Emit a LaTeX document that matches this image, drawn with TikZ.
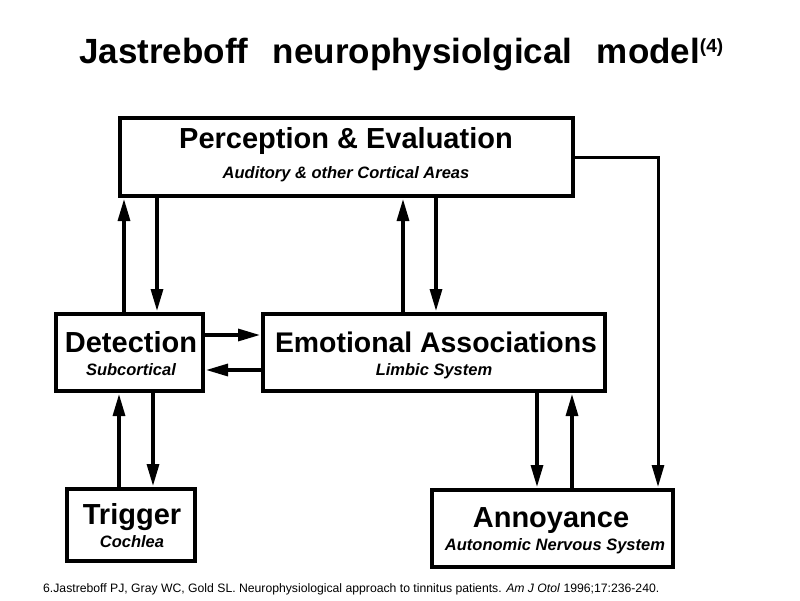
\documentclass[tikz,border=0pt]{standalone}
\usepackage{fontspec}
\usepackage{graphicx}
\setmainfont{Liberation Sans}
\usetikzlibrary{arrows.meta}
\tikzset{
  box/.style={draw, rectangle, line width=3.6pt, inner sep=0pt},
  arr/.style={line width=3.2pt, -{Triangle[width=12pt,length=22pt]}, shorten >=1.2pt},
  ttl/.style={font=\fontsize{29}{29}\selectfont\bfseries, anchor=base, inner sep=0pt},
  sub/.style={font=\fontsize{16.5}{16.5}\selectfont\bfseries\itshape, anchor=base, inner sep=0pt},
}
\begin{document}
\begin{tikzpicture}[x=1pt,y=-1pt]
\useasboundingbox (0,0) rectangle (800,600);
\fill[white] (0,0) rectangle (800,600);

% title
\node[anchor=base west, inner sep=0pt, font=\fontsize{35}{35}\selectfont\bfseries] (title) at (79,63)
  {Jastreboff\hspace{0.7em}neurophysiolgical\hspace{0.7em}model{\fontsize{19}{19}\selectfont\raisebox{11pt}{(4)}}};

% boxes
\node[box, minimum width=453pt, minimum height=78pt] (perc) at (346.5,157) {};
\node[box, minimum width=147pt, minimum height=77pt] (det) at (129.5,352.5) {};
\node[box, minimum width=342pt, minimum height=77pt] (emo) at (434,352.5) {};
\node[box, minimum width=128pt, minimum height=72pt] (trig) at (131,525) {};
\node[box, minimum width=241pt, minimum height=77pt] (ann) at (552.5,528.5) {};

% texts
\node[ttl] (percT) at (346,148) {Perception \& Evaluation};
\node[sub] (percS) at (346,178) {Auditory \& other Cortical Areas};
\node[ttl] (detT) at (131,352) {Detection};
\node[sub] (detS) at (131,375) {Subcortical};
\node[ttl, font=\fontsize{28.4}{28.4}\selectfont\bfseries] (emoT) at (436,352) {Emotional Associations};
\node[sub] (emoS) at (434,375) {Limbic System};
\node[ttl] (trigT) at (132,524) {Trigger};
\node[sub] (trigS) at (132,547) {Cochlea};
\node[ttl] (annT) at (551,527) {Annoyance};
\node[sub] (annS) at (555,550) {Autonomic Nervous System};

% connector start points
\coordinate (a1) at ([xshift=-5.5pt]det.north);
\coordinate (a2) at ([xshift=-189.5pt]perc.south);
\coordinate (a3) at ([xshift=-31pt]emo.north);
\coordinate (a4) at ([xshift=89.5pt]perc.south);
\coordinate (a5) at ([yshift=17.5pt]det.east);
\coordinate (a6) at ([yshift=-17.5pt]emo.west);
\coordinate (a7) at ([xshift=-12pt]trig.north);
\coordinate (a8) at ([xshift=23.5pt]det.south);
\coordinate (a9) at ([xshift=103pt]emo.south);
\coordinate (a10) at ([xshift=19.5pt]ann.north);
\coordinate (a11) at ([xshift=105.5pt]ann.north);

% connectors
\draw[arr] (a1) -- (a1 |- perc.south);
\draw[arr] (a2) -- (a2 |- det.north);
\draw[arr] (a3) -- (a3 |- perc.south);
\draw[arr] (a4) -- (a4 |- emo.north);
\draw[arr] (a5) -- (a5 -| emo.west);
\draw[arr] (a6) -- (a6 -| det.east);
\draw[arr] (a7) -- (a7 |- det.south);
\draw[arr] (a8) -- (a8 |- trig.north);
\draw[arr] (a9) -- (a9 |- ann.north);
\draw[arr] (a10) -- (a10 |- emo.south);
\draw[arr, line width=3pt] (perc.east) -| (a11);

% footnote
\node[anchor=base west, inner sep=0pt] (foot) at (43,592)
  {\resizebox{616pt}{!}{\fontsize{12.3}{12.3}\selectfont 6.Jastreboff PJ, Gray WC, Gold SL. Neurophysiological approach to tinnitus patients. \textit{Am J Otol} 1996;17:236-240.}};
\end{tikzpicture}
\end{document}
